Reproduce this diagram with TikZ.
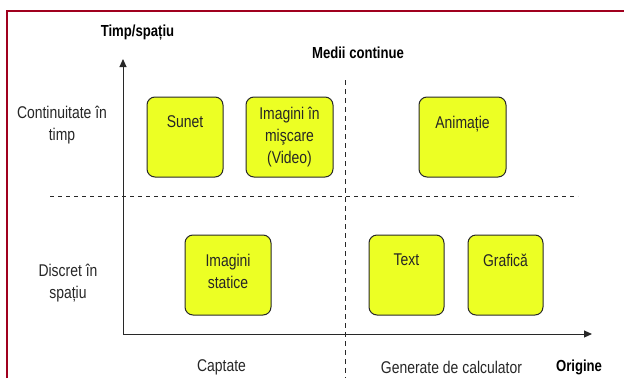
\documentclass[tikz,border=0pt]{standalone}
\usepackage{fontspec}
\setmainfont{Liberation Sans}[FakeStretch=0.82]
\usetikzlibrary{arrows.meta}

\definecolor{FrameRed}{RGB}{160,0,30}
\definecolor{BoxYellow}{RGB}{236,255,36}
\definecolor{AxisGray}{RGB}{40,40,40}

\begin{document}
\begin{tikzpicture}[x=1pt,y=-1pt,
  font=\fontsize{17}{22}\selectfont,
  medbox/.style={draw=AxisGray,fill=BoxYellow,rounded corners=8pt,line width=1pt,minimum height=80pt},
  boxtext/.style={anchor=north,align=center,inner sep=0pt,text=black!85},
  lbl/.style={align=center,text=black!85},
  title/.style={font=\fontsize{16}{20}\selectfont\bfseries},
  axis/.style={AxisGray,line width=1pt,-{Triangle[length=8pt,width=7pt]}}]
\useasboundingbox (0,0) rectangle (624,378);

% frame
\draw[FrameRed,line width=2pt] (7,378) -- (7,11) -- (624,11);

% axes
\coordinate (o) at (123,334);
\coordinate (ytip) at (123,59);
\coordinate (xtip) at (592,334);
\draw[axis] (o) -- (ytip);
\draw[axis] (o) -- (xtip);

% separators
\coordinate (hl) at (50,196);
\coordinate (hr) at (578,196);
\coordinate (vt) at (345.5,80);
\coordinate (vb) at (345.5,378);
\draw[AxisGray,dash pattern=on 4pt off 4pt] (hl) -- (hr);
\draw[AxisGray,dash pattern=on 5pt off 4pt] (vt) -- (vb);

% axis titles and row/column labels
\node[title] (yname) at (137.5,33) {Timp/spațiu};
\node[title] (medii) at (358,53) {Medii continue};
\node[title] (orig) at (579,367) {Origine};
\node[lbl] (timp) at (62,125) {Continuitate în\\timp};
\node[lbl] (spatiu) at (68,283) {Discret în\\spațiu};
\node[lbl] (capt) at (221.5,367) {Captate};
\node[lbl] (gen) at (451.5,367) {Generate de calculator};

% media boxes
\node[medbox,minimum width=76pt] (sunet) at (185,137) {};
\node[medbox,minimum width=87pt] (video) at (289.5,137) {};
\node[medbox,minimum width=87pt] (anim) at (462.5,137) {};
\node[medbox,minimum width=86pt] (stat) at (228,275) {};
\node[medbox,minimum width=75pt] (text) at (406.5,275) {};
\node[medbox,minimum width=75pt] (graf) at (505.5,275) {};

\node[boxtext] (sunet-t) at ([yshift=-19pt]sunet.north) {Sunet};
\node[boxtext] (video-t) at ([yshift=-10pt]video.north) {Imagini în\\mişcare\\(Video)};
\node[boxtext] (anim-t) at ([yshift=-19pt]anim.north) {Animație};
\node[boxtext] (stat-t) at ([yshift=-19pt]stat.north) {Imagini\\statice};
\node[boxtext] (text-t) at ([yshift=-19pt]text.north) {Text};
\node[boxtext] (graf-t) at ([yshift=-19pt]graf.north) {Grafică};
\end{tikzpicture}
\end{document}
